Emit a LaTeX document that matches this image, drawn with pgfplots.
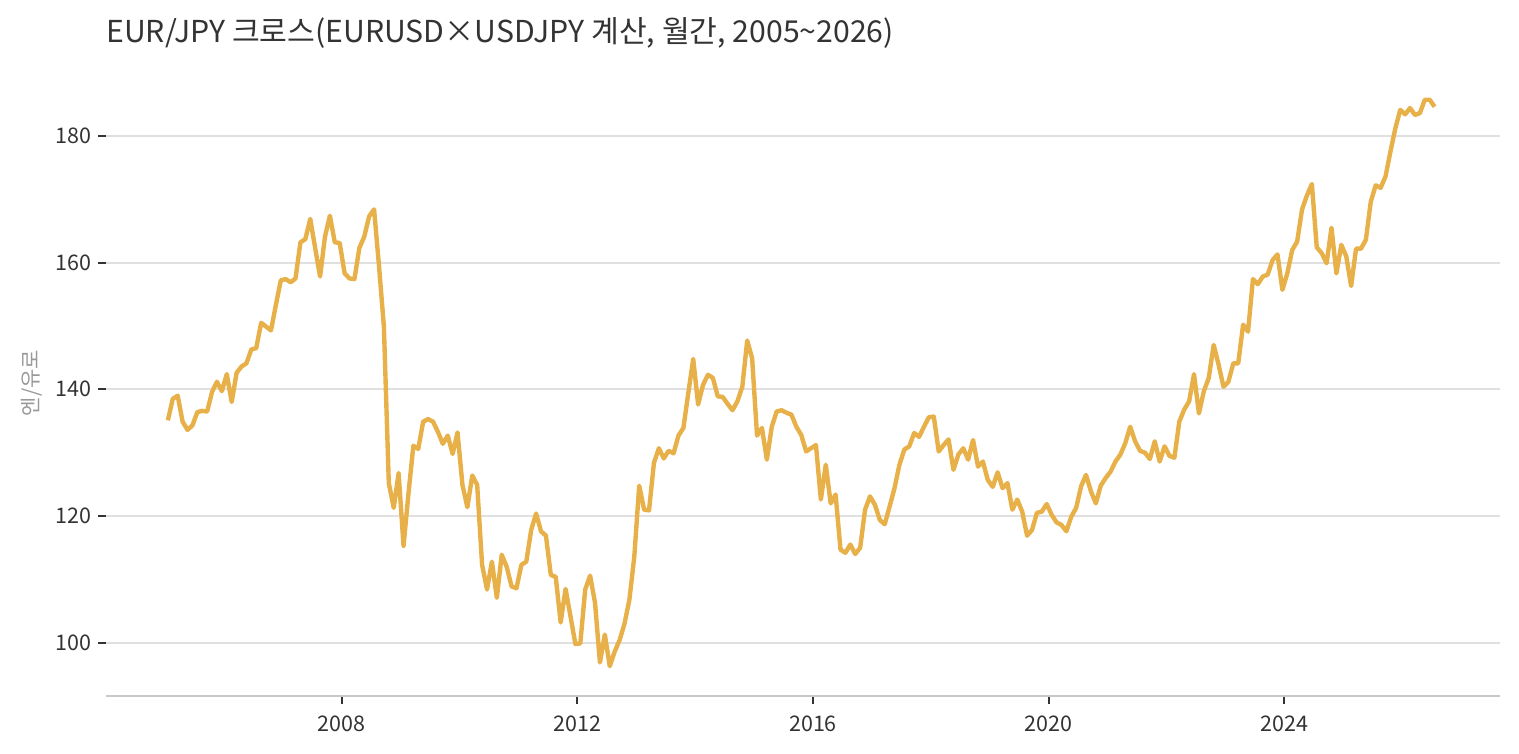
\documentclass[border=0pt]{standalone}
\usepackage{fontspec}
\setmainfont{Noto Sans CJK KR}
\usepackage{pgfplots}
\pgfplotsset{compat=1.18}
\usepackage{pgfplotstable}

\definecolor{linegold}{HTML}{E7B048}
\definecolor{txtdark}{HTML}{333333}
\definecolor{gridgray}{HTML}{E0E0E0}
\definecolor{spinegray}{HTML}{C8C8C8}
\definecolor{labgray}{HTML}{999999}

% EUR/JPY month-end values, Jan 2005 .. Jul 2026 (one year per line)
\pgfplotstableread[row sep=\\]{
v\\
135.1\\138.5\\139.0\\134.9\\133.6\\134.3\\136.4\\136.6\\136.5\\139.6\\141.2\\139.7\\
142.4\\138.0\\142.6\\143.6\\144.1\\146.3\\146.5\\150.5\\149.9\\149.3\\153.3\\157.2\\
157.4\\156.9\\157.5\\163.2\\163.7\\166.9\\162.3\\157.8\\164.1\\167.4\\163.2\\163.1\\
158.3\\157.5\\157.4\\162.3\\164.1\\167.3\\168.4\\159.5\\149.9\\125.2\\121.3\\126.8\\
115.3\\123.5\\131.1\\130.6\\134.9\\135.3\\134.9\\133.3\\131.4\\132.7\\129.8\\133.2\\
124.9\\121.4\\126.4\\124.9\\112.3\\108.4\\112.8\\107.1\\113.9\\112.0\\108.9\\108.6\\
112.3\\112.8\\117.8\\120.4\\117.6\\116.9\\110.7\\110.4\\103.2\\108.5\\104.2\\99.8\\
99.9\\108.4\\110.6\\106.3\\96.9\\101.3\\96.3\\98.6\\100.4\\103.0\\106.8\\113.6\\
124.8\\121.0\\120.9\\128.4\\130.7\\129.1\\130.3\\129.9\\132.7\\133.9\\139.4\\144.8\\
137.6\\140.7\\142.3\\141.8\\138.9\\138.8\\137.7\\136.7\\138.1\\140.4\\147.7\\144.9\\
132.7\\133.9\\128.9\\134.1\\136.5\\136.7\\136.3\\136.0\\134.1\\132.8\\130.2\\130.7\\
131.2\\122.6\\128.1\\122.0\\123.4\\114.7\\114.2\\115.5\\114.0\\115.0\\121.0\\123.1\\
121.8\\119.4\\118.7\\121.5\\124.4\\128.1\\130.5\\131.0\\133.1\\132.5\\134.1\\135.6\\
135.7\\130.2\\131.2\\132.1\\127.3\\129.7\\130.7\\128.9\\132.0\\127.8\\128.6\\125.7\\
124.6\\126.9\\124.4\\125.2\\121.0\\122.6\\120.7\\116.9\\117.8\\120.5\\120.7\\121.9\\
120.2\\119.0\\118.6\\117.6\\119.9\\121.3\\124.7\\126.5\\123.9\\122.0\\124.8\\126.0\\
127.0\\128.6\\129.7\\131.5\\134.1\\131.8\\130.3\\130.0\\129.0\\131.8\\128.6\\131.0\\
129.5\\129.2\\134.9\\136.8\\138.1\\142.4\\136.2\\139.7\\141.8\\147.0\\143.9\\140.4\\
141.2\\144.1\\144.1\\150.2\\149.1\\157.4\\156.6\\157.8\\158.1\\160.4\\161.3\\155.7\\
158.3\\162.0\\163.3\\168.4\\170.6\\172.4\\162.4\\161.5\\159.9\\165.5\\158.3\\162.8\\
161.0\\156.3\\162.2\\162.2\\163.6\\169.6\\172.2\\171.8\\173.6\\177.5\\181.2\\184.1\\
183.4\\184.4\\183.3\\183.6\\185.7\\185.7\\184.6\\
}\eurjpy

\begin{document}
\begin{tikzpicture}
\path[use as bounding box] (0,0) rectangle (759.5pt,377pt);
\begin{axis}[
    at={(53pt,29pt)}, anchor=south west,
    scale only axis, width=697pt, height=313pt,
    xmin=2004.0, xmax=2027.66,
    ymin=91.6, ymax=190.4,
    axis x line*=bottom, axis y line*=left,
    x axis line style={-, draw=spinegray, line width=1pt},
    y axis line style={draw=none},
    xtick={2008,2012,2016,2020,2024},
    ytick={100,120,140,160,180},
    tick align=outside,
    major tick length=4pt,
    tick style={draw=txtdark, line width=1pt},
    ymajorgrids,
    grid style={draw=gridgray, line width=1pt},
    /pgf/number format/assume math mode=true,
    x tick label style={/pgf/number format/1000 sep={}, yshift=-2.5pt},
    tick label style={font=\fontsize{10.75}{13}\selectfont, text=txtdark},
    title={EUR/JPY 크로스(EURUSD×USDJPY 계산, 월간, 2005\textasciitilde 2026)},
    title style={at={(axis description cs:0,1)}, anchor=base west, yshift=7.7pt,
        font=\fontsize{15.1}{18}\selectfont, text=txtdark, inner sep=0pt},
    ylabel={엔/유로},
    every axis y label/.style={at={(axis description cs:-0.053,0.5)}, rotate=90, anchor=center,
        font=\fontsize{10.5}{12}\selectfont, text=labgray},
]
\addplot[linegold, line width=2.2pt, line join=round, mark=none]
    table[x expr=2005.05+\coordindex/12, y=v] {\eurjpy};
\end{axis}
\end{tikzpicture}
\end{document}
